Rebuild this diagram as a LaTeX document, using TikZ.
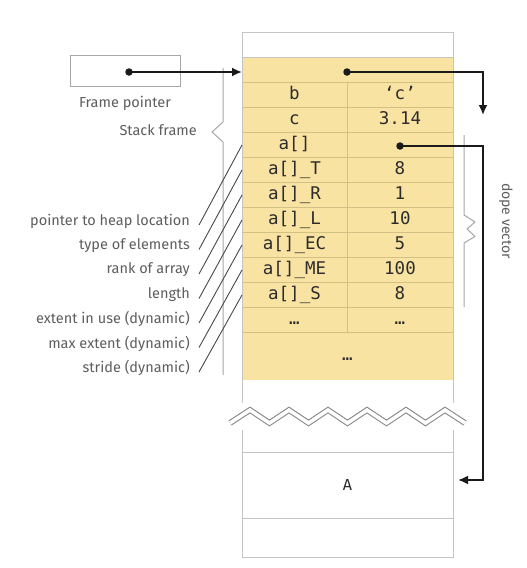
\documentclass[tikz,border=0pt]{standalone}
\usepackage{fontspec}
\setmainfont{Fira Sans}
\newfontfamily\cellfont{DejaVu Sans Mono}
\usetikzlibrary{arrows.meta}
\definecolor{cellyellow}{HTML}{F9E3A3}
\definecolor{rowline}{HTML}{D3C084}
\definecolor{framegray}{HTML}{C4C4C4}
\definecolor{labelgray}{HTML}{5E5E5E}
\definecolor{ink}{HTML}{1A1A1A}
\definecolor{celltext}{HTML}{2C2C2C}
\begin{document}
\begin{tikzpicture}[x=1pt,y=-1pt,
  cell/.style={font=\cellfont\fontsize{17.5}{17.5}\selectfont, text=celltext, inner sep=0pt, text height=12pt, text depth=3pt},
  lbl/.style={font=\fontsize{14.5}{14.5}\selectfont, text=labelgray, anchor=east, inner sep=0pt},
  ptr/.style={draw=ink, line width=1.8pt, -{Latex[length=10pt,width=9pt]}},
  dotnode/.style={circle, fill=ink, inner sep=0pt, minimum size=7.5pt},
  thinframe/.style={draw=framegray, line width=1pt},
  rowrule/.style={draw=rowline, line width=0.9pt},
  slash/.style={draw=ink!80, line width=0.9pt},
  bracket/.style={draw=framegray!85!black, line width=1pt},
]
\useasboundingbox (0,0) rectangle (527,568);
\fill[white] (0,0) rectangle (527,568);

% yellow area
\fill[cellyellow] (242,57.5) rectangle (453,380);
% row rules
\foreach \yy in {82.5,107.5,132.5,157.5,182.5,207.5,232.5,257.5,282.5,307.5,332.5}
  \draw[rowrule] (242,\yy) -- (453,\yy);
\draw[rowrule] (347,82.5) -- (347,332.5);

% column frame
\draw[thinframe] (242,403) -- (242,32) -- (453,32) -- (453,403);
\draw[thinframe] (242,430) -- (242,557) -- (453,557) -- (453,430);
\draw[thinframe] (242,57.5) -- (453,57.5);
\draw[thinframe] (242,452) -- (453,452);
\draw[thinframe] (242,518) -- (453,518);

% zigzag break
\draw[draw=framegray!70!black, line width=1.1pt, double=white, double distance=3.6pt, line join=miter]
  (230,423) -- (250,410) -- (269.5,423) -- (289,410) -- (308.5,423) -- (328,410) -- (347.5,423)
  -- (367,410) -- (386.5,423) -- (406,410) -- (425.5,423) -- (445,410) -- (465,423);

% cell texts
\node[cell] (tb) at (294.5,95) {b};
\node[cell] (vb) at (400,95) {‘c’};
\node[cell] (tc) at (294.5,120) {c};
\node[cell] (vc) at (400,120) {3.14};
\node[cell] (ta) at (294.5,145) {a[]};
\node[cell] (tT) at (294.5,170) {a[]\_T};
\node[cell] (vT) at (400,170) {8};
\node[cell] (tR) at (294.5,195) {a[]\_R};
\node[cell] (vR) at (400,195) {1};
\node[cell] (tL) at (294.5,220) {a[]\_L};
\node[cell] (vL) at (400,220) {10};
\node[cell] (tEC) at (294.5,245) {a[]\_EC};
\node[cell] (vEC) at (400,245) {5};
\node[cell] (tME) at (294.5,270) {a[]\_ME};
\node[cell] (vME) at (400,270) {100};
\node[cell] (tS) at (294.5,295) {a[]\_S};
\node[cell] (vS) at (400,295) {8};
\node[cell] (te1) at (294.5,320) {…};
\node[cell] (ve1) at (400,320) {…};
\node[cell] (e2) at (347.5,356) {…};
\node[font=\fontsize{16}{16}\selectfont, text=celltext, inner sep=0pt] (A) at (347.5,485) {A};

% frame pointer box
\node[draw=framegray!85!black, line width=1pt, minimum width=110pt, minimum height=31pt, inner sep=0pt] (fpbox) at (125,70.5) {};
\node[font=\fontsize{14.5}{14.5}\selectfont, text=labelgray, inner sep=0pt] (fplabel) at (125,103) {Frame pointer};
\node[lbl] (sflabel) at (197,130) {Stack frame};

% stack frame brace
\draw[bracket] (223,68) -- (223,122) -- (212,132) -- (223,142) -- (223,375);
% dope vector brace
\draw[bracket] (464,135) -- (464,215) -- (475,222) -- (467,229) -- (475,236.5) -- (464,243) -- (464,307);
\node[font=\fontsize{14}{14}\selectfont, text=labelgray, inner sep=0pt, rotate=-90] (dope) at (506,221) {dope vector};

% pointers
\node[dotnode] (d0) at (129,72) {};
\coordinate (colin) at (242,72);
\draw[ptr] (d0.center) -- (colin);

\node[dotnode] (d1) at (347,72) {};
\coordinate (c1a) at (483,72);
\coordinate (c1b) at (483,115);
\draw[ptr] (d1.center) -- (c1a) -- (c1b);

\node[dotnode] (d2) at (400,146) {};
\coordinate (c2a) at (483,146);
\coordinate (c2b) at (483,480);
\coordinate (c2c) at (458,480);
\draw[ptr] (d2.center) -- (c2a) -- (c2b) -- (c2c);

% descriptor labels
\node[lbl] (l1) at (190,221) {pointer to heap location};
\node[lbl] (l2) at (190,245.5) {type of elements};
\node[lbl] (l3) at (190,270) {rank of array};
\node[lbl] (l4) at (190,294.5) {length};
\node[lbl] (l5) at (190,319) {extent in use (dynamic)};
\node[lbl] (l6) at (190,343.5) {max extent (dynamic)};
\node[lbl] (l7) at (190,368) {stride (dynamic)};

\foreach \i/\ly/\ry in {1/225/145, 2/249.5/170, 3/274/195, 4/298.5/220, 5/323/245, 6/347.5/270, 7/372/295}{
  \coordinate (s\i a) at (199,\ly);
  \coordinate (s\i b) at (242,\ry);
  \draw[slash] (s\i a) -- (s\i b);
}
\end{tikzpicture}
\end{document}
